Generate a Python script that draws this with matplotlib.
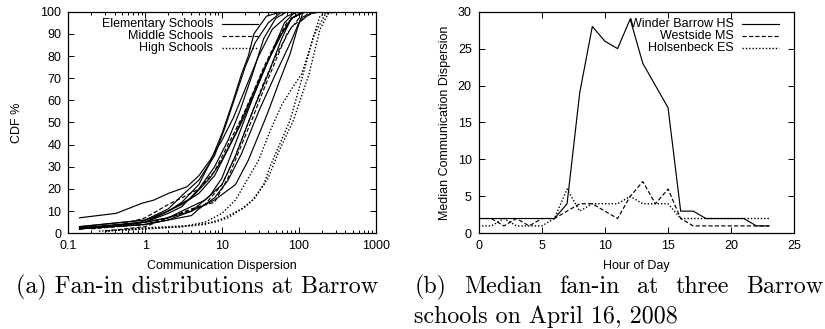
import matplotlib
matplotlib.use('Agg')
import matplotlib.pyplot as plt
from matplotlib.ticker import FixedLocator, FuncFormatter, LogLocator, NullFormatter

plt.rcParams['font.family'] = ['Liberation Sans', 'DejaVu Sans']
plt.rcParams['font.size'] = 9
plt.rcParams['lines.scale_dashes'] = False

# ---------------- Data: panel (a) CDFs ----------------
elementary_x = [
    [0.14, 0.42, 0.9, 1.3, 2, 3.5, 5, 7, 10, 14, 20, 30, 45, 70, 100, 1000],
    [0.14, 1, 2, 3, 5, 7, 10, 14, 18, 22, 26, 38, 60, 1000],
    [0.14, 1, 2, 3, 5, 8, 12, 17, 25, 35, 50, 70, 1000],
    [0.14, 1, 2, 4, 7, 10, 14, 20, 30, 45, 65, 90, 1000],
    [0.14, 1, 2, 3, 6, 10, 15, 25, 40, 60, 80, 120, 1000],
    [0.14, 1, 2, 4, 7, 10, 15, 22, 35, 55, 80, 110, 1000],
    [0.14, 1, 2, 4, 5, 8, 12, 18, 30, 50, 80, 100, 150, 1000],
    [0.14, 1, 2, 4, 8, 15, 22, 35, 42, 55, 77, 95, 114, 1000],
    [0.14, 0.7, 1.5, 3, 5, 8, 12, 18, 28, 40, 60, 80, 120, 1000],
    [0.14, 1, 2, 3, 5, 8, 11, 15, 20, 27, 40, 60, 1000],
]
elementary_y = [
    [7, 9, 13.5, 15, 18, 21, 26, 33, 42, 52, 65, 80, 92, 98, 100, 100],
    [2.5, 5, 10, 14, 22, 32, 45, 60, 72, 80, 90, 98, 100, 100],
    [2, 5, 9, 12, 20, 30, 42, 55, 72, 88, 97, 100, 100],
    [2, 4, 6, 10, 17, 25, 38, 52, 68, 82, 95, 100, 100],
    [2, 5, 7, 10, 15, 22, 35, 55, 72, 88, 97, 100, 100],
    [3, 6, 10, 16, 25, 33, 45, 58, 74, 88, 97, 100, 100],
    [2, 4, 6, 8, 11, 16, 24, 36, 55, 72, 87, 95, 100, 100],
    [2, 5, 7, 10, 15, 22, 33, 50, 57, 68, 81, 92, 100, 100],
    [2.5, 4, 8, 13, 18, 26, 38, 50, 65, 78, 90, 97, 100, 100],
    [3, 6, 11, 17, 24, 35, 48, 62, 75, 86, 95, 100, 100],
]
middle_x = [
    [0.14, 0.5, 1, 2, 3, 5, 8, 12, 18, 25, 35, 50, 70, 100, 150, 1000],
    [0.3, 1, 2, 4, 8, 12, 18, 25, 35, 50, 70, 100, 180, 1000],
    [0.2, 1, 3, 6, 10, 15, 22, 35, 50, 80, 130, 200, 1000],
]
middle_y = [
    [2, 4, 7, 13, 16, 20, 28, 40, 52, 63, 75, 86, 95, 99, 100, 100],
    [1, 3, 7, 11, 14, 25, 40, 52, 65, 78, 90, 97, 100, 100],
    [2, 4, 9, 13, 22, 35, 50, 68, 80, 93, 99, 100, 100],
]
high_x = [
    [0.25, 1, 3, 6, 10, 15, 22, 30, 42, 60, 80, 109, 147, 188, 250, 1000],
    [0.3, 1, 3, 6, 10, 18, 25, 35, 42, 77, 114, 155, 218, 280, 1000],
    [0.3, 1, 4, 8, 12, 20, 27, 40, 55, 85, 136, 188, 240, 300, 1000],
]
high_y = [
    [1, 2, 3, 5, 9, 15, 25, 33, 46, 58, 65, 72, 86, 98, 100, 100],
    [1, 2, 3, 4, 6.5, 11, 15, 22, 30, 51, 72, 89, 98.5, 100, 100],
    [1, 2.5, 3.5, 5, 7, 12, 16, 25, 37, 51, 72, 92, 99, 100, 100],
]

# ---------------- Data: panel (b) hourly medians ----------------
hours = list(range(24))
winder_barrow_hs = [2, 2, 2, 2, 2, 2, 2, 4, 19, 28, 26, 25, 29, 23, 20, 17, 3, 3, 2, 2, 2, 2, 1, 1]
westside_ms = [2, 2, 1, 2, 1, 2, 2, 3, 4, 4, 3, 2, 5, 7, 4, 6, 2, 1, 1, 1, 1, 1, 1, 1]
holsenbeck_es = [1, 1, 2, 1, 1, 1, 2, 6, 3, 4, 4, 4, 5, 4, 4, 4, 2, 2, 2, 2, 2, 2, 2, 2]

left_labels = ['Elementary Schools', 'Middle Schools', 'High Schools']
right_labels = ['Winder Barrow HS', 'Westside MS', 'Holsenbeck ES']

caption_a = '(a) Fan-in distributions at Barrow'
caption_b_line1 = ['(b)', 'Median', 'fan-in', 'at', 'three', 'Barrow']
caption_b_line2 = 'schools on April 16, 2008'

# ---------------- Styles ----------------
SOLID = dict(color='black', lw=0.85, linestyle='-')
DASHED = dict(color='black', lw=0.85, linestyle=(0, (3.0, 1.6)))
DOTTED = dict(color='black', lw=1.0, linestyle=(0, (1.0, 1.4)))

W, H = 825, 329
fig = plt.figure(figsize=(W / 100, H / 100), dpi=100)


def rect(l, t, r, b):
    return [l / W, 1 - b / H, (r - l) / W, (b - t) / H]


ax1 = fig.add_axes(rect(68.3, 11.7, 375.7, 233.3))
ax2 = fig.add_axes(rect(478.7, 11.7, 794.3, 233.3))

for ax in (ax1, ax2):
    for s in ax.spines.values():
        s.set_linewidth(0.9)
    ax.tick_params(which='both', direction='in', top=True, right=True,
                   width=0.7, labelsize=9, pad=5)
    ax.tick_params(which='major', length=4.2)
    ax.tick_params(which='minor', length=2.2)

# panel (a)
for xs, ys in zip(elementary_x, elementary_y):
    ax1.plot(xs, ys, **SOLID)
for xs, ys in zip(middle_x, middle_y):
    ax1.plot(xs, ys, **DASHED)
for xs, ys in zip(high_x, high_y):
    ax1.plot(xs, ys, **DOTTED)
ax1.set_xscale('log')
ax1.set_xlim(0.1, 1000)
ax1.set_ylim(0, 100)
ax1.xaxis.set_major_locator(FixedLocator([0.1, 1, 10, 100, 1000]))
ax1.xaxis.set_major_formatter(FuncFormatter(lambda v, p: f'{v:g}'))
ax1.xaxis.set_minor_locator(LogLocator(base=10, subs=range(2, 10), numticks=20))
ax1.xaxis.set_minor_formatter(NullFormatter())
ax1.set_yticks(range(0, 101, 10))
ax1.set_xlabel('Communication Dispersion', fontsize=9)
ax1.set_ylabel('CDF %', fontsize=9)
ax1.xaxis.set_label_coords(0.5, (233.3 - 265.7) / 221.6)
ax1.xaxis.label.set_va('center')
ax1.yaxis.set_label_coords((16.7 - 68.3) / 307.4, 0.5)
ax1.yaxis.label.set_va('center')

# panel (b)
ax2.plot(hours, winder_barrow_hs, **SOLID)
ax2.plot(hours, westside_ms, **DASHED)
ax2.plot(hours, holsenbeck_es, **DOTTED)
ax2.set_xlim(0, 25)
ax2.set_ylim(0, 30)
ax2.set_xticks(range(0, 26, 5))
ax2.set_yticks(range(0, 31, 5))
ax2.set_xlabel('Hour of Day', fontsize=9)
ax2.set_ylabel('Median Communication Dispersion', fontsize=9)
ax2.xaxis.set_label_coords(0.5, (233.3 - 265.7) / 221.6)
ax2.xaxis.label.set_va('center')
ax2.yaxis.set_label_coords((445.3 - 478.7) / 315.6, 0.5)
ax2.yaxis.label.set_va('center')

# gnuplot-like keys (text right-aligned, sample line to the right)
styles = [SOLID, DASHED, DOTTED]
rows_y = [(233.3 - 24) / 221.6, (233.3 - 36) / 221.6, (233.3 - 48) / 221.6]


def key(ax, labels, text_r, line_l, line_r):
    for lab, st, yy in zip(labels, styles, rows_y):
        ax.text(text_r, yy, lab, transform=ax.transAxes, ha='right', va='center', fontsize=9)
        ax.plot([line_l, line_r], [yy, yy], transform=ax.transAxes, clip_on=False, **st)


key(ax1, left_labels, (213 - 68.3) / 307.4, (222 - 68.3) / 307.4, (258 - 68.3) / 307.4)
key(ax2, right_labels, (733.7 - 478.7) / 315.6, (742 - 478.7) / 315.6, (778.7 - 478.7) / 315.6)

# captions (LaTeX-like, line 1 of (b) justified)
CAP = dict(family='cmr10', fontsize=17.3, va='baseline', ha='left')
fig.text(16 / W, 1 - 293 / H, caption_a, **CAP)
words = [fig.text(0, 1 - 293 / H, w, **CAP) for w in caption_b_line1]
fig.text(414 / W, 1 - 322.7 / H, caption_b_line2, **CAP)
fig.canvas.draw()
r = fig.canvas.get_renderer()
widths = [t.get_window_extent(r).width for t in words]
x_left, x_right = 415.0, 823.0
gap = (x_right - x_left - sum(widths)) / (len(words) - 1)
xpos = x_left
for t, wdt in zip(words, widths):
    t.set_x(xpos / W)
    xpos += wdt + gap

fig.savefig('out.png', dpi=100)
